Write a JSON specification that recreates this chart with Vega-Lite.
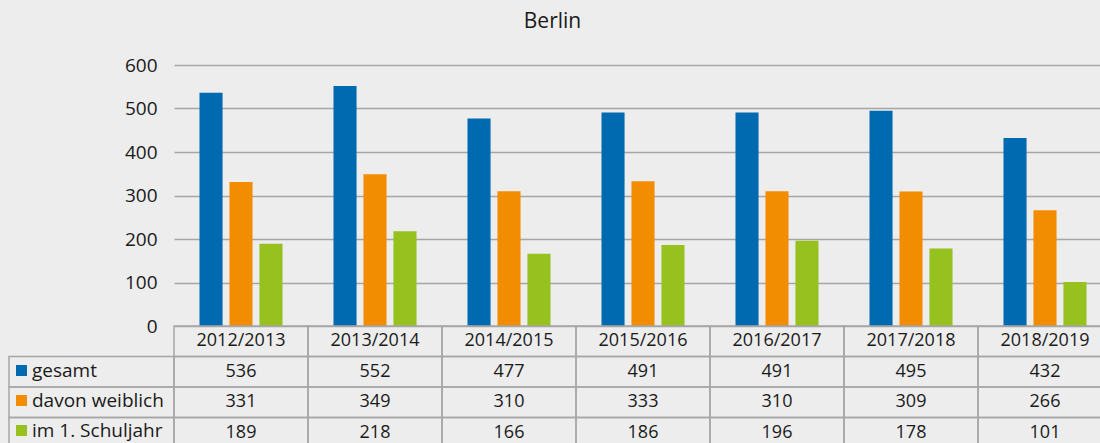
{
  "$schema": "https://vega.github.io/schema/vega-lite/v6.json",
  "background": "#ededed",
  "padding": {"left": 8, "top": 11, "right": 0, "bottom": 0},
  "title": {"text": "Berlin", "fontSize": 21, "fontWeight": "normal", "font": "Open Sans", "color": "#1a1a1a", "dx": -8, "offset": 24, "anchor": "middle"},
  "config": {
    "view": {"stroke": null},
    "font": "Open Sans",
    "text": {"font": "Open Sans", "fontSize": 18, "color": "#1a1a1a"},
    "axis": {"labelFont": "Open Sans"},
    "legend": {"labelFont": "Open Sans"}
  },
  "datasets": {
    "d": [
      {"year": "2012/2013", "series": "gesamt", "value": 536},
      {"year": "2012/2013", "series": "davon weiblich", "value": 331},
      {"year": "2012/2013", "series": "im 1. Schuljahr", "value": 189},
      {"year": "2013/2014", "series": "gesamt", "value": 552},
      {"year": "2013/2014", "series": "davon weiblich", "value": 349},
      {"year": "2013/2014", "series": "im 1. Schuljahr", "value": 218},
      {"year": "2014/2015", "series": "gesamt", "value": 477},
      {"year": "2014/2015", "series": "davon weiblich", "value": 310},
      {"year": "2014/2015", "series": "im 1. Schuljahr", "value": 166},
      {"year": "2015/2016", "series": "gesamt", "value": 491},
      {"year": "2015/2016", "series": "davon weiblich", "value": 333},
      {"year": "2015/2016", "series": "im 1. Schuljahr", "value": 186},
      {"year": "2016/2017", "series": "gesamt", "value": 491},
      {"year": "2016/2017", "series": "davon weiblich", "value": 310},
      {"year": "2016/2017", "series": "im 1. Schuljahr", "value": 196},
      {"year": "2017/2018", "series": "gesamt", "value": 495},
      {"year": "2017/2018", "series": "davon weiblich", "value": 309},
      {"year": "2017/2018", "series": "im 1. Schuljahr", "value": 178},
      {"year": "2018/2019", "series": "gesamt", "value": 432},
      {"year": "2018/2019", "series": "davon weiblich", "value": 266},
      {"year": "2018/2019", "series": "im 1. Schuljahr", "value": 101}
    ]
  },
  "columns": 2,
  "spacing": 0,
  "bounds": "flush",
  "concat": [
    {
      "width": 165,
      "height": 261,
      "data": {"values": []},
      "mark": "text",
      "encoding": {}
    },
    {
      "width": 938,
      "height": 261,
      "data": {"name": "d"},
      "mark": {"type": "bar"},
      "encoding": {
        "x": {"field": "year", "type": "nominal", "sort": null, "axis": null, "scale": {"paddingInner": 0, "paddingOuter": 0}},
        "xOffset": {"field": "series", "type": "nominal", "scale": {"domain": ["gesamt", "davon weiblich", "im 1. Schuljahr"], "paddingInner": 0.23, "paddingOuter": 0.85}},
        "y": {"field": "value", "type": "quantitative", "scale": {"domain": [0, 600]},
          "axis": {"values": [0, 100, 200, 300, 400, 500, 600], "title": null, "grid": true, "gridColor": "#a6a6a6", "gridWidth": 1.5, "domain": false, "ticks": false, "labelFontSize": 19, "labelPadding": 17, "labelColor": "#1a1a1a"}},
        "color": {"field": "series", "type": "nominal",
          "scale": {"domain": ["gesamt", "davon weiblich", "im 1. Schuljahr"], "range": ["#006AB0", "#F28C00", "#96C11F"]},
          "legend": {"orient": "none", "legendX": 3, "legendY": 296, "title": null, "symbolType": "square", "symbolSize": 120, "symbolStrokeWidth": 0, "symbolOpacity": 1, "labelFontSize": 19, "labelColor": "#1a1a1a", "labelOffset": 1, "rowPadding": 10}}
      }
    },
    {
      "width": 165,
      "height": 122,
      "data": {"name": "d"},
      "transform": [{"filter": "datum.year == '2012/2013'"}],
      "mark": {"type": "rect", "fill": "transparent", "stroke": "#a6a6a6", "strokeWidth": 1.5},
      "encoding": {
        "y": {"field": "series", "type": "nominal", "axis": null, "scale": {"domain": ["Jahr", "gesamt", "davon weiblich", "im 1. Schuljahr"], "paddingInner": 0, "paddingOuter": 0}}
      }
    },
    {
      "width": 938,
      "height": 122,
      "data": {"name": "d"},
      "encoding": {
        "x": {"field": "year", "type": "nominal", "sort": null, "axis": null, "scale": {"paddingInner": 0, "paddingOuter": 0}}
      },
      "layer": [
        {
          "mark": {"type": "rect", "fill": "transparent", "stroke": "#a6a6a6", "strokeWidth": 1.5},
          "encoding": {
            "y": {"field": "series", "type": "nominal", "axis": null, "scale": {"domain": ["Jahr", "gesamt", "davon weiblich", "im 1. Schuljahr"], "paddingInner": 0, "paddingOuter": 0}}
          }
        },
        {
          "transform": [{"filter": "datum.series == 'gesamt'"}],
          "mark": {"type": "rect", "fill": "transparent", "stroke": "#a6a6a6", "strokeWidth": 1.5},
          "encoding": {"y": {"datum": "Jahr", "type": "nominal"}}
        },
        {
          "mark": {"type": "text"},
          "encoding": {
            "y": {"field": "series", "type": "nominal"},
            "text": {"field": "value", "type": "quantitative"}
          }
        },
        {
          "transform": [{"filter": "datum.series == 'gesamt'"}],
          "mark": {"type": "text"},
          "encoding": {
            "y": {"datum": "Jahr", "type": "nominal"},
            "text": {"field": "year", "type": "nominal"}
          }
        }
      ]
    }
  ]
}
